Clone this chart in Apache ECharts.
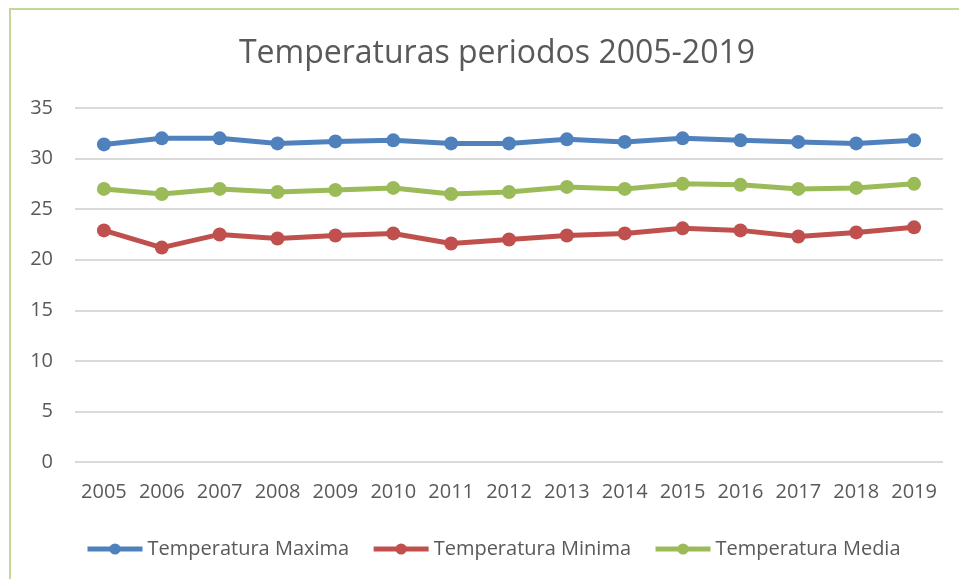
<!DOCTYPE html>
<html><head><meta charset="utf-8">
<script src="https://cdn.jsdelivr.net/npm/echarts@6/dist/echarts.min.js"></script>
<style>html,body{margin:0;padding:0;background:#fff}#c{width:959px;height:579px}</style>
</head><body><div id="c"></div>
<script>
const years = ['2005','2006','2007','2008','2009','2010','2011','2012','2013','2014','2015','2016','2017','2018','2019'];
const tMax = [31.4,32.0,32.0,31.5,31.7,31.8,31.5,31.5,31.9,31.65,32.0,31.8,31.65,31.5,31.8];
const tMin = [22.9,21.2,22.5,22.1,22.4,22.6,21.6,22.0,22.4,22.6,23.1,22.9,22.3,22.7,23.2];
const tMed = [27.0,26.5,27.0,26.7,26.9,27.1,26.5,26.7,27.2,27.0,27.5,27.4,27.0,27.1,27.5];
const names = ['Temperatura Maxima','Temperatura Minima','Temperatura Media'];
const colors = ['#4F81BD','#C0504D','#9BBB59'];
const font = '"Open Sans", sans-serif';
const chart = echarts.init(document.getElementById('c'));
const mk = (n, d, c) => ({
  name: n, type: 'line', data: d, symbol: 'circle', symbolSize: 14,
  lineStyle: {width: 5, color: c}, itemStyle: {color: c}, animation: false
});
chart.setOption({
  animation: false,
  graphic: [{type: 'rect', shape: {x: 10, y: 9, width: 1000, height: 600},
    style: {fill: 'none', stroke: '#C3D69B', lineWidth: 2}, silent: true}],
  title: {text: 'Temperaturas periodos 2005-2019', left: 492, textAlign: 'center', top: 33,
    textStyle: {fontFamily: font, fontSize: 32, fontWeight: 'normal', color: '#595959'}},
  grid: {left: 75, right: 16, top: 108, bottom: 117, containLabel: false},
  legend: {left: 80, top: 534, itemWidth: 55, itemHeight: 14, itemGap: 22,
    lineStyle: {width: 5},
    textStyle: {fontFamily: font, fontSize: 20, color: '#595959'},
    data: names},
  xAxis: {type: 'category', data: years, boundaryGap: true,
    axisLine: {show: false}, axisTick: {show: false},
    axisLabel: {fontFamily: font, fontSize: 20, color: '#595959', margin: 20, interval: 0}},
  yAxis: {type: 'value', min: 0, max: 35, interval: 5,
    axisLine: {show: false}, axisTick: {show: false},
    axisLabel: {fontFamily: font, fontSize: 20, color: '#595959', margin: 22},
    splitLine: {lineStyle: {color: '#D9D9D9', width: 2}}},
  series: [mk(names[0], tMax, colors[0]), mk(names[1], tMin, colors[1]), mk(names[2], tMed, colors[2])]
});
</script></body></html>
